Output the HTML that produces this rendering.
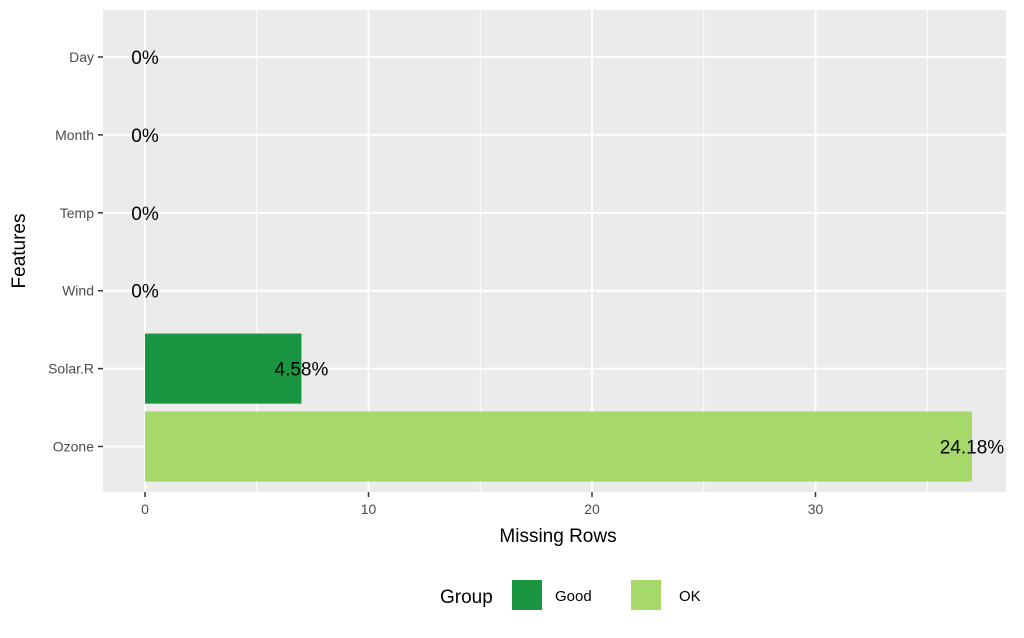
<!DOCTYPE html>
<html><head><meta charset="utf-8"><style>
body{margin:0;background:#fff;font-family:"Liberation Sans",sans-serif}
</style></head><body>
<svg width="1024" height="633" viewBox="0 0 1024 633" xmlns="http://www.w3.org/2000/svg" font-family="Liberation Sans, sans-serif">
<rect x="103" y="10" width="903" height="482" fill="#ebebeb"/>
<g id="grid"></g>
<g id="bars"></g>
<g id="labels"></g>
<g id="axes"></g>
<text x="558" y="542" font-size="19" text-anchor="middle" fill="#000">Missing Rows</text>
<text x="0" y="0" font-size="19" text-anchor="middle" fill="#000" transform="translate(25,251) rotate(-90)">Features</text>
<g>
<text x="440" y="603" font-size="19" fill="#000">Group</text>
<rect x="512" y="580" width="30" height="30" fill="#1a9641"/>
<text x="555" y="601" font-size="15" fill="#000">Good</text>
<rect x="631" y="580" width="30" height="30" fill="#a6d96a"/>
<text x="679" y="601" font-size="15" fill="#000">OK</text>
</g>
</svg>
<script>
const categories=["Day","Month","Temp","Wind","Solar.R","Ozone"];
const missingValues=[0,0,0,0,7,37];
const pctLabels=["0%","0%","0%","0%","4.58%","24.18%"];
const groups=["Good","Good","Good","Good","Good","OK"];
const xTicks=[0,10,20,30];
const xMinor=[5,15,25,35];
const colors={Good:"#1a9641",OK:"#a6d96a"};
const NS="http://www.w3.org/2000/svg";
const X0=145,PXU=22.35,Y0=57,STEP=77.9,panelTop=10,panelBot=492,panelL=103,panelR=1006;
const xs=v=>X0+v*PXU, ys=i=>Y0+i*STEP;
function mk(t,a,p){const e=document.createElementNS(NS,t);for(const k in a)e.setAttribute(k,a[k]);p.appendChild(e);return e;}
const grid=document.getElementById('grid'),bars=document.getElementById('bars'),labels=document.getElementById('labels'),axes=document.getElementById('axes');
xMinor.forEach(v=>{const l=mk('line',{x1:xs(v),x2:xs(v),y1:panelTop,y2:panelBot,stroke:'#fff','stroke-width':1},grid);

});
xTicks.forEach(v=>{const l=mk('line',{x1:xs(v),x2:xs(v),y1:panelTop,y2:panelBot,stroke:'#fff','stroke-width':2},grid);


const tk=mk('line',{x1:xs(v),x2:xs(v),y1:panelBot,y2:panelBot+5,stroke:'#333','stroke-width':1.5},axes);


const t=mk('text',{x:xs(v),y:panelBot+22,'font-size':14,'text-anchor':'middle',fill:'#4d4d4d'},axes);t.textContent=v;

});
categories.forEach((c,i)=>{const y=ys(i);
const g=mk('line',{x1:panelL,x2:panelR,y1:y,y2:y,stroke:'#fff','stroke-width':2},grid);


const tk=mk('line',{x1:panelL-5,x2:panelL,y1:y,y2:y,stroke:'#333','stroke-width':1.5},axes);


const t=mk('text',{x:panelL-9,y:y+5,'font-size':14,'text-anchor':'end',fill:'#4d4d4d'},axes);t.textContent=c;


const h=STEP*0.9;
if(missingValues[i]>0){const r=mk('rect',{x:xs(0),y:y-h/2,width:xs(missingValues[i])-xs(0),height:h,fill:colors[groups[i]]},bars);

}
const lb=mk('text',{x:xs(missingValues[i]),y:y+7,'font-size':19,'text-anchor':'middle',fill:'#000'},labels);lb.textContent=pctLabels[i];

});
</script>
</body></html>
